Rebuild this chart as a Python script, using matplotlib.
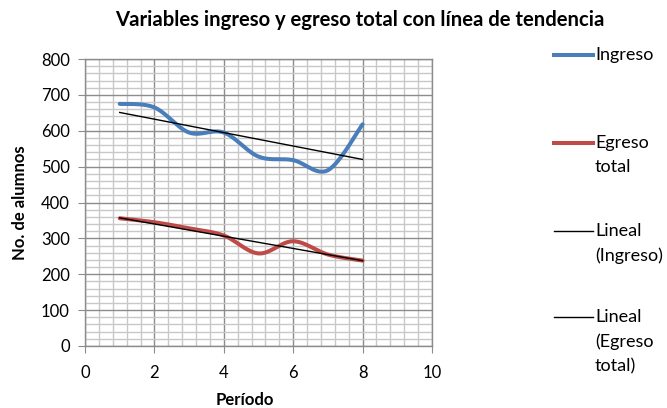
import numpy as np
import matplotlib
matplotlib.use('Agg')
import matplotlib.pyplot as plt
from matplotlib.lines import Line2D
from matplotlib.ticker import MultipleLocator

plt.rcParams['font.family'] = ['Lato', 'DejaVu Sans']

periodo = [1, 2, 3, 4, 5, 6, 7, 8]
ingreso = [675, 665, 595, 595, 528, 518, 490, 618]
egreso_total = [356, 345, 328, 308, 258, 292, 255, 238]

legend_labels = ['Ingreso', 'Egreso\ntotal', 'Lineal\n(Ingreso)', 'Lineal\n(Egreso\ntotal)']


def excel_smooth(x, y, n=30):
    # bezier segments like Excel's "smoothed line"
    x = np.asarray(x, float)
    y = np.asarray(y, float)
    px, py = [], []
    for i in range(len(x) - 1):
        x0, y0 = (x[i - 1], y[i - 1]) if i > 0 else (x[i], y[i])
        x3, y3 = (x[i + 2], y[i + 2]) if i + 2 < len(x) else (x[i + 1], y[i + 1])
        c1x = x[i] + (x[i + 1] - x0) / 6
        c1y = y[i] + (y[i + 1] - y0) / 6
        c2x = x[i + 1] - (x3 - x[i]) / 6
        c2y = y[i + 1] - (y3 - y[i]) / 6
        t = np.linspace(0, 1, n)
        bx = (1 - t) ** 3 * x[i] + 3 * (1 - t) ** 2 * t * c1x + 3 * (1 - t) * t ** 2 * c2x + t ** 3 * x[i + 1]
        by = (1 - t) ** 3 * y[i] + 3 * (1 - t) ** 2 * t * c1y + 3 * (1 - t) * t ** 2 * c2y + t ** 3 * y[i + 1]
        px.extend(bx)
        py.extend(by)
    return px, py


W, H = 667, 408
fig = plt.figure(figsize=(W / 100, H / 100), dpi=100)
ax = fig.add_axes([85 / W, 1 - 346 / H, (432 - 85) / W, (346 - 59) / H])

ax.set_xlim(0, 10)
ax.set_ylim(0, 800)
ax.xaxis.set_major_locator(MultipleLocator(2))
ax.xaxis.set_minor_locator(MultipleLocator(0.4))
ax.yaxis.set_major_locator(MultipleLocator(100))
ax.yaxis.set_minor_locator(MultipleLocator(20))
ax.grid(which='minor', color='#c8c8c8', linewidth=1.0)
ax.grid(which='major', color='#8c8c8c', linewidth=1.0)
ax.set_axisbelow(True)
ax.tick_params(which='minor', length=0)
ax.tick_params(which='major', length=5, color='#8c8c8c', labelsize=12)
ax.tick_params(axis='x', pad=9)
ax.tick_params(axis='y', pad=6)
for s in ax.spines.values():
    s.set_color('#8c8c8c')
    s.set_linewidth(1.0)

blue = '#4a7ebb'
red = '#be4b48'

sx, sy = excel_smooth(periodo, ingreso)
ax.plot(sx, sy, color=blue, linewidth=2.9, solid_capstyle='round')
sx, sy = excel_smooth(periodo, egreso_total)
ax.plot(sx, sy, color=red, linewidth=2.9, solid_capstyle='round')

xs = np.array(periodo, float)
for serie in (ingreso, egreso_total):
    m, b = np.polyfit(xs, serie, 1)
    ax.plot([xs[0], xs[-1]], [m * xs[0] + b, m * xs[-1] + b], color='black', linewidth=1.0)

fig.text(245 / W, 1 - 400 / H, 'Período', fontsize=12, fontweight='bold', ha='center', va='center')
fig.text(20 / W, 1 - 203 / H, 'No. de alumnos', fontsize=12, fontweight='bold',
         ha='center', va='center', rotation=90)
fig.text(360 / W, 1 - 20 / H, 'Variables ingreso y egreso total con línea de tendencia',
         fontsize=14.6, fontweight='bold', ha='center', va='center')

# legend drawn by hand, Excel spaces the entries this way
leg_y = [55, 143, 231, 317]
leg_style = [(blue, 2.9), (red, 2.9), ('black', 1.0), ('black', 1.0)]
for lab, yy, (c, lw) in zip(legend_labels, leg_y, leg_style):
    fig.add_artist(Line2D([554 / W, 593 / W], [1 - yy / H, 1 - yy / H],
                          color=c, linewidth=lw, transform=fig.transFigure))
    for k, part in enumerate(lab.split('\n')):
        fig.text(595 / W, 1 - (yy + 24.5 * k) / H, part, fontsize=13, ha='left', va='center')

fig.savefig('out.png', dpi=100)
